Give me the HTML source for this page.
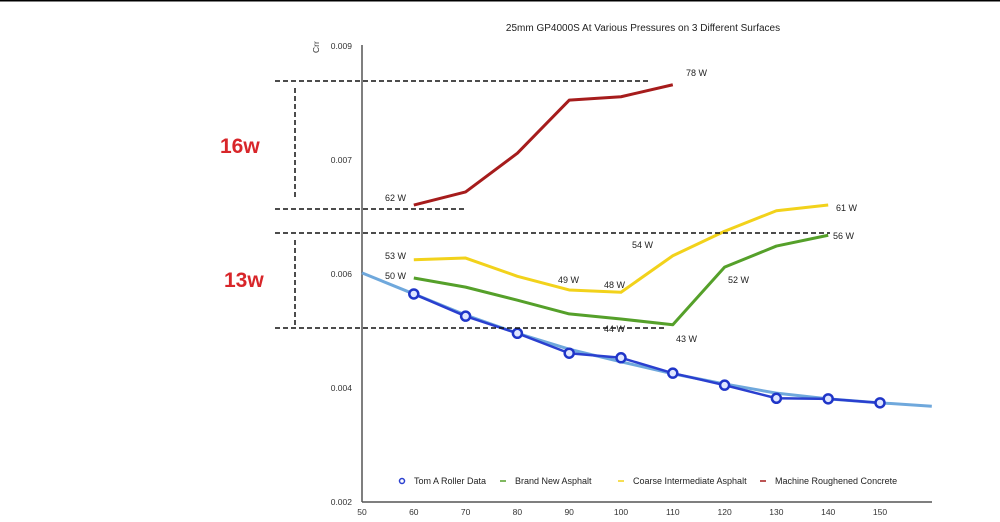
<!DOCTYPE html>
<html><head><meta charset="utf-8"><style>
body{margin:0;background:#fff;width:1000px;height:517px;overflow:hidden;font-family:"Liberation Sans",sans-serif}
svg text{font-family:"Liberation Sans",sans-serif}
</style></head><body>
<svg id="c" width="1000" height="517"></svg>
<script>
const xCats=[60,70,80,90,100,110,120,130,140,150];
const xTicks=[50,60,70,80,90,100,110,120,130,140,150];
const yTickVals=[0.002,0.004,0.006,0.008,0.010];
const yTickLabels=["0.002","0.004","0.006","0.007","0.009"];
const concrete=[0.00721,0.00744,0.00812,0.00905,0.00911,0.00932];
const coarse=[0.00625,0.00628,0.00596,0.00572,0.00568,0.00632,0.00675,0.00711,0.00721];
const newAsphalt=[0.00593,0.00577,0.00554,0.0053,0.00521,0.00511,0.00612,0.00649,0.00668];
const roller=[0.00565,0.00526,0.00496,0.00461,0.00453,0.00426,0.00405,0.00382,0.00381,0.00374];
const fitX=[50,60,70,80,90,100,110,120,130,140,150,160];
const fitY=[0.00602,0.00565,0.00528,0.00496,0.00468,0.00446,0.00425,0.00407,0.00391,0.00381,0.00374,0.00368];
const X=v=>362+(v-50)*5.18;
const Y=v=>502-(v-0.002)*57000;
const s=document.getElementById('c');const NS='http://www.w3.org/2000/svg';
function el(t,a,txt){const e=document.createElementNS(NS,t);for(const k in a)e.setAttribute(k,a[k]);if(txt!=null)e.textContent=txt;s.appendChild(e);return e;}
let e;
e=el('line',{x1:0,y1:0.5,x2:1000,y2:0.5,stroke:'#000','stroke-width':2});


e=el('text',{x:643,y:31,'font-size':10,'text-anchor':'middle',fill:'#222'},'25mm GP4000S At Various Pressures on 3 Different Surfaces');


e=el('text',{x:0,y:0,'font-size':8.5,fill:'#333',transform:'translate(319,53) rotate(-90)'},'Crr');


e=el('line',{x1:362,y1:45,x2:362,y2:502,stroke:'#555','stroke-width':1.5});


e=el('line',{x1:362,y1:502,x2:932,y2:502,stroke:'#555','stroke-width':1.5});


yTickVals.forEach((v,i)=>{const t=el('text',{x:352,y:Y(v)+3,'font-size':8.5,'text-anchor':'end',fill:'#333'},yTickLabels[i]);

});
xTicks.forEach(v=>{const t=el('text',{x:X(v),y:515,'font-size':8.5,'text-anchor':'middle',fill:'#333'},String(v));

});
function line(vals,xs,color,w,name){const p=el('polyline',{points:vals.map((v,i)=>X(xs[i])+','+Y(v)).join(' '),fill:'none',stroke:color,'stroke-width':w,'stroke-linejoin':'round'});

}
line(fitY,fitX,'#6fa8dc',3,'roller-fit-curve');
line(concrete,xCats,'#a61c1c',3,'concrete-line');
line(coarse,xCats,'#f2d21b',3,'coarse-asphalt-line');
line(newAsphalt,xCats,'#55a02a',3,'new-asphalt-line');
line(roller,xCats,'#2a3fcf',2.5,'roller-line');
roller.forEach((v,i)=>{const c=el('circle',{cx:X(xCats[i]),cy:Y(v),r:4.5,fill:'#dfe6ff',stroke:'#1f35c8','stroke-width':2.5});

});
[[275,81,650,81],[275,209,465,209],[275,233,830,233],[275,328,665,328],[295,88,295,200],[295,240,295,326]].forEach(d=>{const l=el('line',{x1:d[0],y1:d[1],x2:d[2],y2:d[3],stroke:'#111','stroke-width':1.5,'stroke-dasharray':'5,3'});

});
e=el('text',{x:220,y:153,'font-size':21,'font-weight':'bold',fill:'#d8262a'},'16w');


e=el('text',{x:224,y:287,'font-size':21,'font-weight':'bold',fill:'#d8262a'},'13w');


[['78 W',686,76],['62 W',385,201],['53 W',385,259],['50 W',385,279],['49 W',558,283],['48 W',604,288],['54 W',632,248],['61 W',836,211],['56 W',833,239],['52 W',728,283],['44 W',604,332],['43 W',676,342]].forEach(a=>{const t=el('text',{x:a[1],y:a[2],'font-size':9,fill:'#222'},a[0]);

});
const legend=[['Tom A Roller Data','#2a3fcf',414],['Brand New Asphalt','#55a02a',515],['Coarse Intermediate Asphalt','#f2d21b',633],['Machine Roughened Concrete','#a61c1c',775]];
legend.forEach((g,i)=>{if(i===0){const c=el('circle',{cx:g[2]-12,cy:481,r:2.5,fill:'none',stroke:g[1],'stroke-width':1.5});

}else{const l=el('line',{x1:g[2]-15,y1:481,x2:g[2]-9,y2:481,stroke:g[1],'stroke-width':1.5});

}
const t=el('text',{x:g[2],y:484,'font-size':9,fill:'#222'},g[0]);

});
</script>
</body></html>
